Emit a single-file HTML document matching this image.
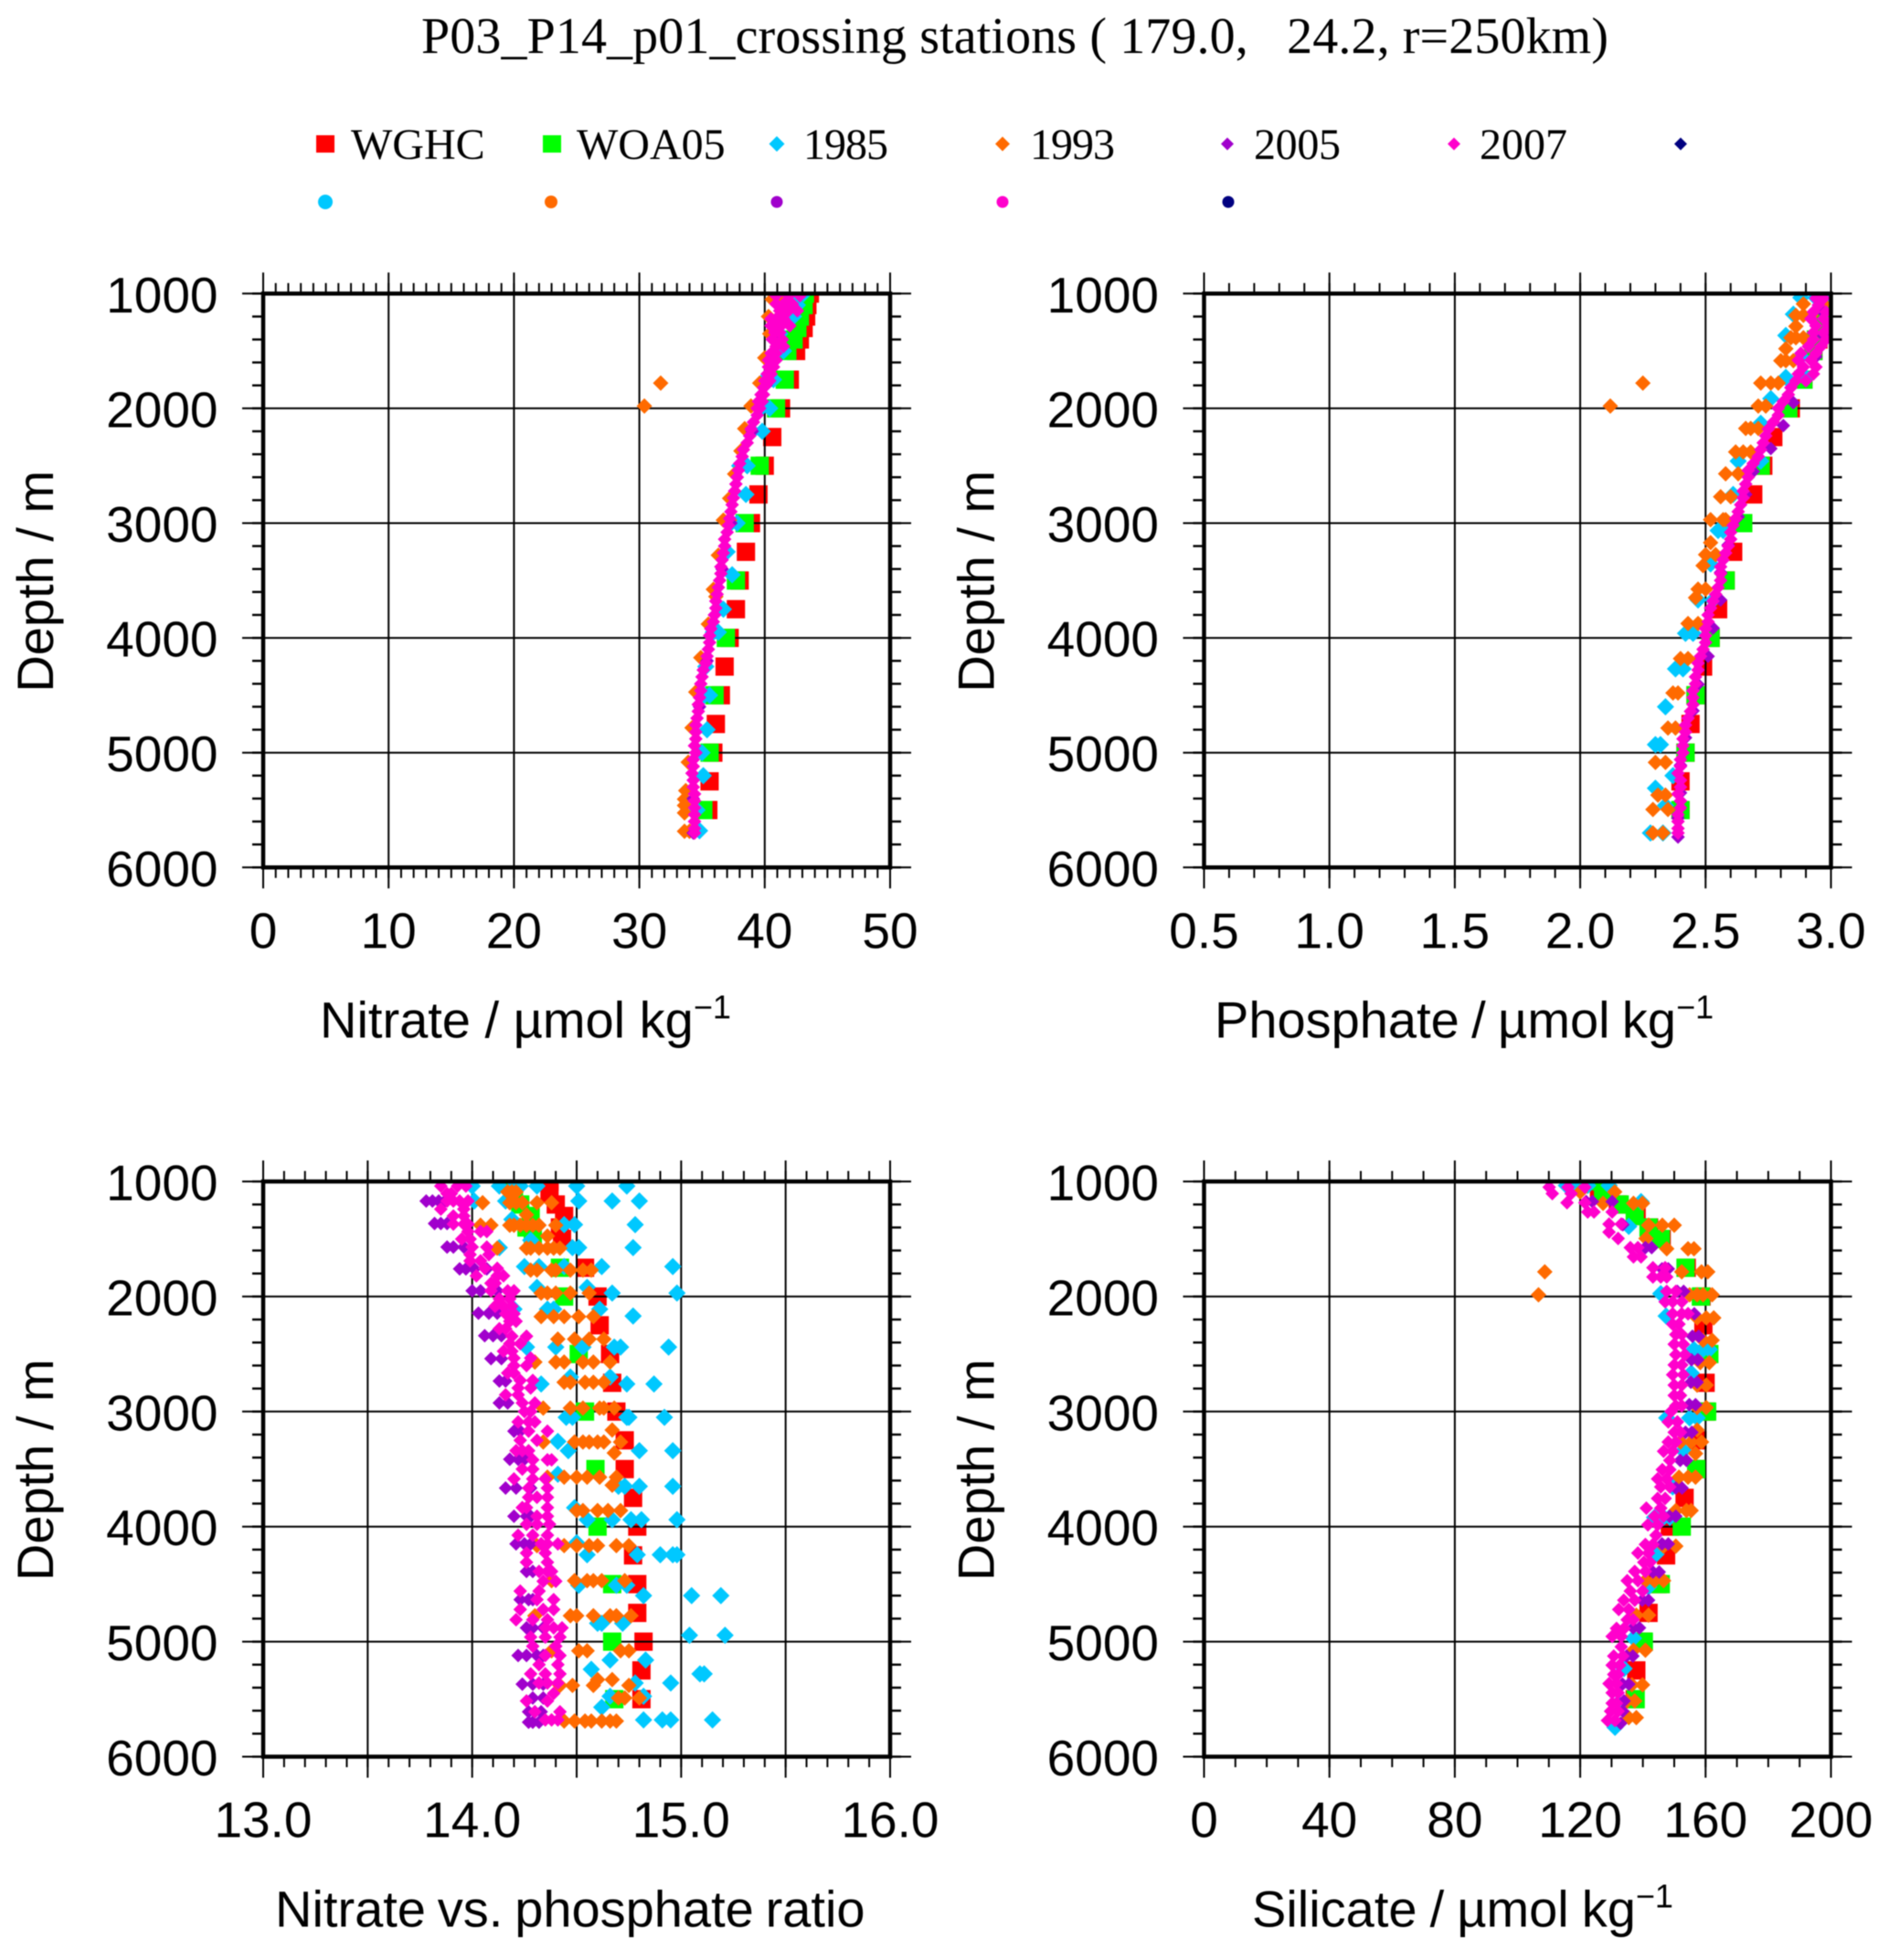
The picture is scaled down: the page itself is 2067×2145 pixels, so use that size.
<!DOCTYPE html>
<html lang="en">
<head>
<meta charset="utf-8">
<title>P03_P14_p01 crossing stations</title>
<style>
html,body{margin:0;padding:0;background:#fff;}
svg{display:block;filter:blur(0.6px);}
text{fill:#000;white-space:pre;}
.sans{font-family:"Liberation Sans",sans-serif;}
.serif{font-family:"Liberation Serif",serif;}
</style>
</head>
<body>
<svg id="chart" xmlns="http://www.w3.org/2000/svg" width="2067" height="2145" viewBox="0 0 2067 2145">
<rect x="0" y="0" width="2067" height="2145" fill="#fff"/>
<text class="serif" x="461" y="58" font-size="56" textLength="1299" xml:space="preserve">P03_P14_p01_crossing stations ( 179.0,   24.2, r=250km)</text>
<g class="serif" font-size="48">
<g><rect x="346" y="148" width="20" height="19" fill="#ff0000"/><text x="384" y="174">WGHC</text></g>
<g><rect x="594" y="148" width="20" height="19" fill="#00ff00"/><text x="631" y="174">WOA05</text></g>
<g><polygon points="850,149 858.5,157.5 850,166 841.5,157.5" fill="#00c8ff"/><text x="879" y="174" textLength="93">1985</text></g>
<g><polygon points="1097,149.5 1105,157.5 1097,165.5 1089,157.5" fill="#ff6a00"/><text x="1127" y="174" textLength="93">1993</text></g>
<g><polygon points="1343,150.5 1350,157.5 1343,164.5 1336,157.5" fill="#a000cc"/><text x="1372" y="174" textLength="95">2005</text></g>
<g><polygon points="1591,150.5 1598,157.5 1591,164.5 1584,157.5" fill="#ff00cc"/><text x="1619" y="174">2007</text></g>
<polygon points="1839,150.5 1846,157.5 1839,164.5 1832,157.5" fill="#000080"/>
<circle cx="356" cy="221" r="8" fill="#00c8ff"/>
<circle cx="603" cy="221" r="7" fill="#ff6a00"/>
<circle cx="850" cy="221" r="6.5" fill="#a000cc"/>
<circle cx="1097" cy="221" r="6.5" fill="#ff00cc"/>
<circle cx="1344" cy="221" r="6.5" fill="#000080"/>
</g>
<g id="panels"></g>
</svg>
<script>
// Shared depth levels of the two climatologies and the axis ticks
const wghcDepths = [1000,1100,1200,1300,1400,1500,1750,2000,2250,2500,2750,3000,3250,3500,3750,4000,4250,4500,4750,5000,5250,5500];
const woaDepths = [1000,1100,1200,1300,1400,1500,1750,2000,2500,3000,3500,4000,4500,5000,5500];
const depthTicks = [1000,2000,3000,4000,5000,6000];
const nitrateTicks = [0,10,20,30,40,50];
const nitrateLabels = ["0","10","20","30","40","50"];
const phosphateTicks = [0.5,1,1.5,2,2.5,3];
const phosphateLabels = ["0.5","1.0","1.5","2.0","2.5","3.0"];
const ratioTicks = [13,13.5,14,14.5,15,15.5,16];
const ratioLabelValues = [13,14,15,16];
const ratioLabels = ["13.0","14.0","15.0","16.0"];
const silicateTicks = [0,40,80,120,160,200];
const silicateLabels = ["0","40","80","120","160","200"];

// Nitrate
const nitrateWGHC = [43.6,43.4,43.3,43.1,42.8,42.5,42,41.3,40.6,40,39.5,38.9,38.5,38,37.7,37.2,36.8,36.5,36.1,35.9,35.6,35.5];
const nitrateWOA = [43.2,43.1,42.8,42.6,42.3,41.8,41.6,40.9,39.6,38.4,37.7,36.9,36,35.6,35.1];
const nitrate1985 = [[1000,41.6,42.6,43.1],[1100,42,42.6],[1200,41.6,42.3],[1350,41.2],[1500,41.5,41],[1750,40,40.7],[2000,40.4,39.7],[2200,39.8,39],[2500,38,38.6],[2750,38.5],[3000,37.3,37.8],[3250,37],[3450,37.4],[3750,36.7],[3950,36.3,35.9],[4250,35.3],[4500,35.2,35.6],[4800,35.4],[5000,35],[5200,35.1],[5500,34.6],[5680,34.8,34.4]];
const nitrate1993 = [[1050,40.6,41.5],[1200,40.3],[1350,40.4,41],[1560,40],[1780,39.6,31.7],[1980,38.9,39.3,30.4],[2177,38.4],[2371,38.1],[2572,37.6],[2784,37.2],[2974,36.7,37.2],[3280,36.3],[3577,35.9],[3640,36.1],[3880,35.5],[4172,34.9],[4472,34.5],[4783,34.2],[5083,33.9],[5331,33.7],[5405,33.6],[5460,33.6],[5525,33.6],[5685,33.6,34]];
const nitrate2005 = [[1100,41.5],[1400,41.2],[1800,40.1],[2200,39],[2600,37.8],[3000,37.3],[3400,36.6],[3800,36],[4200,35.4],[4600,34.8],[5000,34.5],[5400,34.3],[5700,34.3]];
const nitrate2007 = [[1020,40.9,41.9,42.8],[1090,40.9,41.5,42.2],[1150,41.2,41.9,42.6],[1220,40.5,40.9,41.5],[1280,40.5,41.3,42],[1340,40.8,41.2],[1400,40.6,41.4],[1460,40.9,41.5],[1520,40.5,40.9],[1580,40.3,40.9],[1640,40.3,40.7],[1700,40.2,40.5],[1760,40,40.4],[1820,39.9],[1880,39.9,39.7],[1940,39.5,39.8],[2000,39.4,39.6],[2060,39.4],[2120,39.1],[2180,38.9],[2240,38.8],[2300,38.6],[2360,38.3],[2420,38.2],[2480,38],[2540,37.9],[2600,37.8],[2660,37.7],[2720,37.6],[2780,37.5],[2840,37.4],[2900,37.3],[2960,37.2],[3020,37.1],[3080,37],[3140,36.8],[3200,36.8],[3260,36.7],[3320,36.6],[3380,36.5],[3440,36.5],[3500,36.4],[3560,36.3],[3620,36.2],[3680,36.1],[3740,36.1],[3800,36],[3860,35.9],[3920,35.7],[3980,35.6],[4040,35.6],[4100,35.5],[4160,35.4],[4220,35.3],[4280,35.1],[4340,35],[4400,34.9],[4460,34.9],[4520,34.8],[4580,34.7],[4640,34.7],[4700,34.6],[4760,34.5],[4820,34.5],[4880,34.5],[4940,34.4],[5000,34.5],[5060,34.3],[5120,34.3],[5180,34.2],[5240,34.3],[5300,34.3],[5360,34.4],[5420,34.4],[5480,34.4],[5540,34.4],[5600,34.4],[5660,34.4],[5700,34.4]];

// Phosphate
const phosphateWGHC = [2.99,2.99,2.98,2.97,2.95,2.93,2.89,2.84,2.77,2.73,2.69,2.65,2.61,2.58,2.55,2.52,2.49,2.46,2.44,2.42,2.4,2.4];
const phosphateWOA = [2.99,2.98,2.97,2.96,2.94,2.93,2.89,2.83,2.72,2.65,2.58,2.52,2.46,2.42,2.4];
const phosphate1985 = [[1035,2.88,2.94,2.98],[1180,2.85],[1365,2.82],[1550,2.88],[1730,2.82,2.9],[1915,2.76],[2130,2.72],[2460,2.63,2.72],[2750,2.61],[3065,2.55,2.57],[3355,2.52],[3670,2.47,2.53],[3960,2.42,2.45],[4270,2.38,2.41],[4600,2.34],[4930,2.3,2.32],[5200,2.37],[5310,2.3],[5460,2.34],[5700,2.28,2.33]];
const phosphate1993 = [[1090,2.89,2.97],[1190,2.86,2.89,2.92],[1285,2.86],[1385,2.84,2.86,2.89],[1480,2.82],[1585,2.8,2.82,2.85],[1780,2.25,2.72,2.76,2.79],[1980,2.12,2.71,2.74],[2175,2.66,2.68,2.71],[2380,2.62,2.65,2.68],[2570,2.58,2.63],[2770,2.56,2.6],[2970,2.52,2.57,2.58],[3170,2.52],[3275,2.5,2.54],[3370,2.49],[3575,2.47,2.5],[3650,2.46],[3875,2.43,2.47],[4180,2.4,2.43],[4480,2.37,2.39],[4785,2.35,2.38],[5085,2.3,2.34],[5370,2.31,2.34],[5495,2.29,2.35],[5700,2.29,2.33]];
const phosphate2005 = [[1165,2.97],[1365,2.97],[1550,2.94],[1760,2.9],[1950,2.85],[2150,2.81],[2350,2.76],[2550,2.69],[2750,2.66],[2945,2.63],[3190,2.59],[3430,2.56],[3670,2.56],[3915,2.53],[4160,2.51],[4405,2.47],[4635,2.45],[4870,2.42],[5110,2.4],[5350,2.4],[5570,2.39],[5735,2.39]];
const phosphate2007 = [[1040,2.94,2.97],[1100,2.95],[1160,2.93,2.98],[1220,2.92,2.97],[1280,2.94,2.99],[1340,2.93,2.97],[1400,2.93,2.98],[1460,2.91,2.96],[1520,2.88,2.94],[1580,2.87,2.92],[1640,2.89,2.94],[1700,2.87,2.93],[1760,2.86,2.9],[1820,2.84],[1880,2.83],[1940,2.81],[2000,2.79],[2060,2.79],[2120,2.77],[2180,2.75],[2240,2.74],[2300,2.73],[2360,2.72],[2420,2.71],[2480,2.69],[2540,2.67],[2600,2.67],[2660,2.66],[2720,2.65],[2780,2.65],[2840,2.64],[2900,2.63],[2960,2.62],[3020,2.61],[3080,2.6],[3140,2.6],[3200,2.59],[3260,2.58],[3320,2.57],[3380,2.56],[3440,2.56],[3500,2.56],[3560,2.55],[3620,2.54],[3680,2.53],[3740,2.52],[3800,2.51],[3860,2.51],[3920,2.5],[3980,2.5],[4040,2.5],[4100,2.49],[4160,2.48],[4220,2.47],[4280,2.47],[4340,2.46],[4400,2.46],[4460,2.45],[4520,2.45],[4580,2.45],[4640,2.44],[4700,2.43],[4760,2.42],[4820,2.42],[4880,2.41],[4940,2.41],[5000,2.41],[5060,2.4],[5120,2.4],[5180,2.39],[5240,2.4],[5300,2.4],[5360,2.39],[5420,2.4],[5480,2.4],[5540,2.39],[5600,2.39],[5660,2.39],[5700,2.39]];

// Nitrate vs phosphate ratio
const ratioWGHC = [14.37,14.37,14.4,14.44,14.42,14.43,14.54,14.6,14.61,14.66,14.67,14.69,14.73,14.73,14.77,14.79,14.77,14.79,14.79,14.82,14.81,14.81];
const ratioWOA = [14.16,14.2,14.23,14.28,14.26,14.29,14.42,14.44,14.51,14.54,14.59,14.6,14.67,14.67,14.68];
const ratio1985 = [[1040,14,14.13,14.2,14.23,14.31,14.5,14.74],[1170,14.01,14.16,14.51,14.67,14.8],[1330,14.19],[1375,14.44,14.49,14.78],[1510,14.28],[1575,14.13,14.48,14.51,14.77],[1740,14.25,14.32,14.44,14.62,14.96],[1920,14.31,14.55],[1970,14.67,14.98],[2110,14.2,14.36,14.39,14.61],[2170,14.77],[2440,14.26,14.4,14.53,14.68,14.71,14.94],[2700,14.47,14.66],[2760,14.33,14.74,14.87],[3050,14.45,14.48,14.74,14.75,14.92],[3260,14.41],[3340,14.46,14.8,14.96],[3545,14.41],[3650,14.7,14.73,14.8,14.96],[3836,14.49],[3940,14.55,14.67,14.76,14.81,14.98],[4140,14.5],[4245,14.55,14.79,14.9,14.96,14.98],[4510,14.51,14.69,14.74],[4600,14.82,15.05,15.19],[4840,14.6,14.62,14.72],[4945,15.04,15.21],[5160,14.66,14.83],[5240,14.57],[5280,15.09,15.11],[5360,14.78,14.95],[5475,14.66,14.82],[5570,14.62],[5680,14.82,14.91,14.95,15.15]];
const ratio1993 = [[1090,14.17,14.19,14.21],[1185,14.05,14.18,14.21,14.24,14.31,14.38],[1290,14.26],[1380,14.04,14.09,14.18,14.2,14.23,14.26,14.29,14.32,14.4],[1475,14.36],[1580,14.12,14.26,14.28,14.32,14.36,14.39,14.42],[1770,14.28,14.31,14.38,14.4,14.47,14.53,14.57],[1970,14.33,14.36,14.4,14.47,14.56],[2175,14.33,14.39,14.44,14.51,14.58],[2370,14.41,14.49,14.56,14.63],[2570,14.3,14.4,14.44,14.53,14.58,14.66],[2745,14.44,14.47,14.54,14.58,14.63],[2970,14.34,14.47,14.53,14.61,14.63,14.68],[3160,14.67],[3265,14.34,14.49,14.53,14.56,14.6,14.63,14.71],[3360,14.68],[3570,14.36,14.44,14.5,14.55,14.61,14.69],[3640,14.67],[3860,14.5,14.53,14.6,14.65,14.71],[4165,14.31,14.44,14.5,14.56,14.6,14.69,14.75],[4470,14.38,14.49,14.55,14.58,14.62,14.73],[4775,14.3,14.47,14.5,14.58,14.66,14.69,14.76],[5080,14.38,14.51,14.55,14.71,14.75],[5330,14.6,14.67],[5380,14.42,14.48,14.58,14.75],[5490,14.7,14.73,14.8],[5690,14.44,14.49,14.54,14.57,14.62,14.66,14.69]];
const ratio2005 = [[1170,13.78,13.81,13.84,13.87],[1365,13.82,13.85,13.88],[1570,13.88,13.91,13.96],[1760,13.94,13.97,14.01,14.07],[1950,14,14.04,14.12],[2145,14.03,14.08,14.12],[2340,14.06,14.1,14.14],[2540,14.09,14.14],[2735,14.13,14.16],[2925,14.13,14.17],[3170,14.2,14.23],[3415,14.18,14.22,14.25],[3665,14.16,14.21,14.28],[3910,14.2,14.26,14.28],[4150,14.21,14.25,14.28,14.33],[4390,14.26,14.29],[4635,14.23,14.27,14.29],[4880,14.26,14.29,14.34],[5120,14.22,14.26,14.31,14.34],[5370,14.24,14.29,14.34],[5490,14.29,14.34],[5610,14.27,14.3,14.33],[5700,14.27,14.29,14.32]];
const ratio2007 = [[1040,13.85,13.93,13.97],[1105,13.88,13.9],[1170,13.88,13.91,13.94,13.98],[1240,13.85,13.96],[1300,13.91,13.96],[1370,13.91,13.96,13.98],[1435,14.04,14.07,13.98],[1500,13.95,13.99],[1570,14,14.07],[1635,13.99,14.08],[1690,13.99,14.04],[1755,14.12,14.06],[1820,14.02,14.12,14.15],[1885,14.09,14.11],[1950,14.09,14.17,14.2],[2020,14.13,14.18],[2085,14.11,14.15,14.19],[2150,14.16,14.2],[2215,14.18,14.21],[2280,14.13,14.16],[2345,14.19,14.26],[2410,14.18,14.23],[2475,14.15,14.19],[2535,14.2,14.28],[2600,14.2,14.26],[2665,14.17,14.2],[2730,14.23,14.29],[2795,14.22,14.28],[2855,14.16,14.22],[2925,14.24,14.3],[3000,14.25,14.28],[3090,14.22,14.27,14.3],[3170,14.27,14.36],[3250,14.23,14.31],[3340,14.21,14.24,14.27],[3420,14.29,14.36,14.38],[3500,14.24,14.29],[3585,14.2,14.29,14.35],[3665,14.27,14.36],[3745,14.27,14.31,14.36],[3835,14.24,14.26,14.36],[3910,14.31,14.36],[3980,14.26,14.31,14.37],[4075,14.22,14.29,14.36],[4150,14.33,14.36,14.41],[4230,14.26,14.35],[4310,14.26,14.36],[4390,14.32,14.36,14.38],[4475,14.34,14.4],[4560,14.23,14.32],[4635,14.31,14.39],[4720,14.23,14.34,14.39],[4810,14.21,14.29,14.36],[4880,14.35,14.39,14.43],[4960,14.28,14.35,14.42],[5040,14.29,14.4],[5120,14.35,14.42],[5200,14.32,14.41],[5280,14.28,14.35,14.42],[5360,14.32,14.36,14.41],[5450,14.39],[5515,14.26,14.36],[5610,14.42,14.3],[5680,14.35,14.38,14.41]];

// Silicate
const silicateWGHC = [119,126,132,138,142,146,154,158.7,159.3,160,160,160,157.4,157.3,153.3,148.6,147.4,144.7,141.8,139.9,137.9,137.4];
const silicateWOA = [126.8,127.3,132.6,137.4,141.8,145.7,153.6,158.5,161.2,160.5,157,152.4,145.7,140.3,137.7];
const silicate1985 = [[1035,115.6,118.5,122.4,129.2],[1175,139.4],[1390,135.5],[1975,145.7],[2170,147.4],[2460,156.3,159.2,161.2],[2665,155.4],[3055,147.6,154.9,157.3],[3340,152.9],[3655,149.5],[3920,143.7,146.6,148.6],[4240,144.2],[4525,141.8],[4970,137],[5235,134],[5535,132.1],[5745,131.1]];
const silicate1993 = [[1090,131,120],[1190,137,139.9,127.3],[1380,146.2,150,141.8],[1495,141],[1585,154.4,156.3,147.6],[1785,108.7,152.4,158.7,160.7],[1985,106.7,154.9,157.3,159.2,162.1],[2185,157.3,160.2,162.6],[2380,159.2,162.1],[2575,158.3,161.2],[2770,157.3,160.2],[2965,157.3,160.2],[3160,157.3],[3265,152,155.4,158.7],[3365,156.8],[3570,151.5,154.4,156.8],[3860,150.5,153.9,155.4],[4170,146.6,150.5],[4470,140.8,143.7,146.6],[4770,137.9,141.8],[5075,137,140.8],[5375,136.5,139.9],[5515,135,137.4],[5660,135.5,137.9]];
const silicate2005 = [[1175,121.9,123.9,130.2],[1375,133.6],[1575,140.8,142.8],[1760,146.1,148.1],[1955,151,153],[2150,154.4,156.4],[2345,155.8,157.8],[2550,155.5,157.5],[2745,155.3,157.3],[2940,154.8,156.8],[3180,153.6,155.6],[3425,151.9,153.9],[3665,150.5,152.5],[3910,148.5,150.5],[4150,146.1,148.1],[4395,143.2,145.2],[4640,139.8,141.8],[4880,136.9,138.9],[5125,134.8,136.8],[5370,133.5,135.5],[5515,134],[5605,133.6],[5710,132.9]];
const silicate2007 = [[1050,110.1,116.1,121.5],[1105,111.1,117.1],[1185,115.8,121.5],[1265,122.4,124.4,130.2],[1370,129.2,133.1],[1440,129.2],[1495,132.1],[1575,136,138.4],[1655,137,139.4],[1750,143.2,147.1],[1830,143.2,145.7,147.6],[1955,147.6,150.5],[2045,147.1,149.5,152.4],[2150,149.5,152.4,154.4],[2240,149.5,151.5],[2330,150.5,152.4],[2415,150,152.9],[2505,150.5,153.4],[2595,150,152.4],[2680,149.5,152.9],[2770,150,152.4],[2860,150,152],[2950,150.5,152.4],[3000,149],[3090,148.1,151],[3180,150,152],[3265,148.1,150.5],[3345,146.6,149.5],[3425,148.6],[3505,146.2,148.6],[3585,144.7,147.6],[3655,145.7,148.6],[3755,144.7,147.1],[3840,141.1,145.7],[3910,143.7,146.6],[3985,141.6,144.7],[4075,144.2],[4155,140.8,143.2],[4230,138.4,141.8],[4310,140.3,142.3],[4390,137.4,140.8],[4470,135,138.4],[4560,136,139.9],[4640,133.9,137.4],[4720,132.3,135.5],[4810,135,136.9],[4885,131.6,134],[4955,130.2,133.1],[5045,133.1],[5125,130.7,133.6],[5205,130.2,132.6],[5285,130.7,132.1],[5365,129.2,131.6],[5445,130.2,132.1],[5535,130.2,131.6],[5605,129.7,132.1],[5685,128.7,131.1]];

const NS = 'http://www.w3.org/2000/svg';
const root = document.getElementById('panels');

function make(tag, attrs, parent, name) {
  const el = document.createElementNS(NS, tag);
  for (const k in attrs) el.setAttribute(k, attrs[k]);
  
  
  parent.appendChild(el);
  return el;
}

function line(parent, x1, y1, x2, y2, w, name) {
  make('line', {x1: x1, y1: y1, x2: x2, y2: y2, stroke: '#000', 'stroke-width': w}, parent, name);
}

function drawPanel(cfg) {
  const left = cfg.left, top = cfg.top, w = 686, h = cfg.height;
  const xScale = function (v) { return left + (v - cfg.min) / (cfg.max - cfg.min) * w; };
  const yScale = function (d) { return top + (d - 1000) / 5000 * h; };
  const panel = make('g', {}, root, cfg.id + '-panel');
  const defs = make('defs', {}, panel, cfg.id + '-defs');
  const clip = make('clipPath', {id: cfg.id + '-clip'}, defs, cfg.id + '-clip');
  make('rect', {x: left, y: top, width: w, height: h}, clip, cfg.id + '-clip-rect');

  const marksRed = make('g', {'clip-path': 'url(#' + cfg.id + '-clip)'}, panel, cfg.id + '-wghc-series');
  wghcDepths.forEach(function (d, i) {
    make('rect', {x: xScale(cfg.wghc[i]) - 10, y: yScale(d) - 10, width: 20, height: 20, fill: '#ff0000'}, marksRed, cfg.id + '-wghc-point');
  });

  const grid = make('g', {}, panel, cfg.id + '-grid');
  cfg.ticks.forEach(function (v) {
    line(grid, xScale(v), top - 23, xScale(v), top + h + 23, 2, cfg.id + '-x-gridline');
  });
  depthTicks.forEach(function (d) {
    line(grid, left - 23, yScale(d), left + w + 23, yScale(d), 2, cfg.id + '-y-gridline');
  });

  const marksGreen = make('g', {'clip-path': 'url(#' + cfg.id + '-clip)'}, panel, cfg.id + '-woa05-series');
  woaDepths.forEach(function (d, i) {
    make('rect', {x: xScale(cfg.woa[i]) - 10, y: yScale(d) - 10, width: 20, height: 20, fill: '#00ff00'}, marksGreen, cfg.id + '-woa05-point');
  });

  cfg.series.forEach(function (s) {
    const g = make('g', {'clip-path': 'url(#' + cfg.id + '-clip)', fill: s.color}, panel, cfg.id + '-' + s.name + '-series');
    s.rows.forEach(function (row) {
      const cy = yScale(row[0]);
      row.slice(1).forEach(function (v) {
        const cx = xScale(v);
        const pts = cx + ',' + (cy - s.r) + ' ' + (cx + s.r) + ',' + cy + ' ' + cx + ',' + (cy + s.r) + ' ' + (cx - s.r) + ',' + cy;
        make('polygon', {points: pts}, g, cfg.id + '-' + s.name + '-point');
      });
    });
  });

  const axes = make('g', {}, panel, cfg.id + '-axes');
  make('rect', {x: left, y: top, width: w, height: h, fill: 'none', stroke: '#000', 'stroke-width': 4.5}, axes, cfg.id + '-frame');
  const minorCount = Math.round((cfg.max - cfg.min) / cfg.minor);
  for (let i = 0; i <= minorCount; i++) {
    const px = left + i / minorCount * w;
    line(axes, px, top - 11.5, px, top, 2, cfg.id + '-x-minor-tick-top');
    line(axes, px, top + h, px, top + h + 11.5, 2, cfg.id + '-x-minor-tick-bottom');
  }
  for (let d = 1000; d <= 6000; d += 200) {
    line(axes, left - 12, yScale(d), left, yScale(d), 2.4, cfg.id + '-y-minor-tick-left');
    line(axes, left + w, yScale(d), left + w + 12, yScale(d), 2.4, cfg.id + '-y-minor-tick-right');
  }
  const labelFont = {class: 'sans', 'font-size': 55};
  cfg.labelValues.forEach(function (v, i) {
    const t = make('text', Object.assign({x: xScale(v), y: top + h + 88, 'text-anchor': 'middle'}, labelFont), axes, cfg.id + '-x-tick-label');
    t.textContent = cfg.labels[i];
  });
  depthTicks.forEach(function (d) {
    const t = make('text', Object.assign({x: left - 49.5, y: yScale(d) + 20.5, 'text-anchor': 'end'}, labelFont), axes, cfg.id + '-y-tick-label');
    t.textContent = String(d);
  });
  const yt = make('text', {class: 'sans', 'font-size': 56, 'text-anchor': 'middle', transform: 'translate(' + (left - 230) + ',' + (top + h / 2 + 1) + ') rotate(-90)'}, axes, cfg.id + '-y-axis-title');
  yt.textContent = 'Depth / m';
  const xt = make('text', {class: 'sans', 'font-size': 56, x: cfg.titleX, y: top + h + 186, 'word-spacing': cfg.wordGap}, axes, cfg.id + '-x-axis-title');
  xt.appendChild(document.createTextNode(cfg.title));
  if (cfg.sup) {
    const sup = make('tspan', {'font-size': 36, dy: -21}, xt, cfg.id + '-x-axis-title-exponent');
    sup.textContent = cfg.sup;
  }
}

const colors1985 = '#00c8ff', colors1993 = '#ff6a00', colors2005 = '#a000cc', colors2007 = '#ff00cc';
function seriesOf(a, b, c, d) {
  return [
    {name: '1985', color: colors1985, r: 9.5, rows: a},
    {name: '1993', color: colors1993, r: 8.5, rows: b},
    {name: '2005', color: colors2005, r: 7.5, rows: c},
    {name: '2007', color: colors2007, r: 7.5, rows: d}
  ];
}

drawPanel({id: 'nitrate', left: 288, top: 321.3, height: 628, min: 0, max: 50, minor: 1, ticks: nitrateTicks, labelValues: nitrateTicks, labels: nitrateLabels, titleX: 350, wordGap: 0, title: 'Nitrate / \u00b5mol kg', sup: '\u22121', wghc: nitrateWGHC, woa: nitrateWOA, series: seriesOf(nitrate1985, nitrate1993, nitrate2005, nitrate2007)});
drawPanel({id: 'phosphate', left: 1317.5, top: 321.3, height: 628, min: 0.5, max: 3, minor: 0.1, ticks: phosphateTicks, labelValues: phosphateTicks, labels: phosphateLabels, titleX: 1329, wordGap: -2.2, title: 'Phosphate / \u00b5mol kg', sup: '\u22121', wghc: phosphateWGHC, woa: phosphateWOA, series: seriesOf(phosphate1985, phosphate1993, phosphate2005, phosphate2007)});
drawPanel({id: 'ratio', left: 288, top: 1293, height: 629.5, min: 13, max: 16, minor: 0.1, ticks: ratioTicks, labelValues: ratioLabelValues, labels: ratioLabels, titleX: 301, wordGap: -2.7, title: 'Nitrate vs. phosphate ratio', sup: '', wghc: ratioWGHC, woa: ratioWOA, series: seriesOf(ratio1985, ratio1993, ratio2005, ratio2007)});
drawPanel({id: 'silicate', left: 1317.5, top: 1293, height: 629.5, min: 0, max: 200, minor: 10, ticks: silicateTicks, labelValues: silicateTicks, labels: silicateLabels, titleX: 1370, wordGap: -1.5, title: 'Silicate / \u00b5mol kg', sup: '\u22121', wghc: silicateWGHC, woa: silicateWOA, series: seriesOf(silicate1985, silicate1993, silicate2005, silicate2007)});
</script>
</body>
</html>
